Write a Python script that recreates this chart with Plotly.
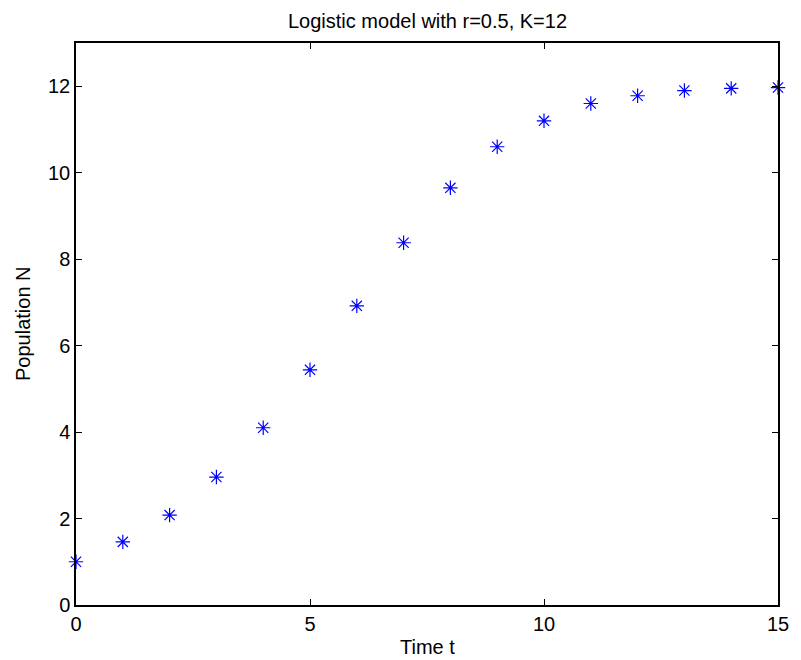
import plotly.graph_objects as go

time_t = list(range(16))
population_n = [1.00, 1.46, 2.08, 2.96, 4.10, 5.44, 6.92, 8.38, 9.65, 10.60,
                11.20, 11.60, 11.78, 11.90, 11.95, 11.97]
x_ticks = [0, 5, 10, 15]
y_ticks = [0, 2, 4, 6, 8, 10, 12]

font = "Liberation Sans, Arial, sans-serif"
FS = 20

fig = go.Figure()
fig.add_trace(go.Scatter(
    x=time_t, y=population_n, mode="markers",
    marker=dict(symbol="asterisk-open", size=12, color="#0000ff",
                line=dict(color="#0000ff", width=1.2)),
    cliponaxis=False, showlegend=False,
))

axis_common = dict(
    showgrid=False, zeroline=False, showline=True, linecolor="black",
    linewidth=1.5, mirror="ticks", ticks="inside", ticklen=6,
    tickcolor="black", tickwidth=1,
    tickfont=dict(family=font, size=FS, color="black"),
)

fig.update_layout(
    width=801, height=660,
    margin=dict(l=76, r=13, t=43, b=55),
    paper_bgcolor="white", plot_bgcolor="white",
    xaxis=dict(range=[0, 15], tickvals=x_ticks, **axis_common),
    yaxis=dict(range=[0, 13], tickvals=y_ticks, **axis_common),
    annotations=[
        dict(text="Logistic model with r=0.5, K=12", xref="paper", yref="paper",
             x=0.5, y=1, xanchor="center", yanchor="middle", yshift=22,
             showarrow=False, font=dict(family=font, size=FS, color="black")),
        dict(text="Time t", xref="paper", yref="paper",
             x=0.5, y=0, xanchor="center", yanchor="middle", yshift=-42,
             showarrow=False, font=dict(family=font, size=FS, color="black")),
        dict(text="Population N", xref="paper", yref="paper", textangle=-90,
             x=0, y=0.5, xanchor="center", yanchor="middle", xshift=-53,
             showarrow=False, font=dict(family=font, size=FS, color="black")),
    ],
)

fig.write_html("out.html")
